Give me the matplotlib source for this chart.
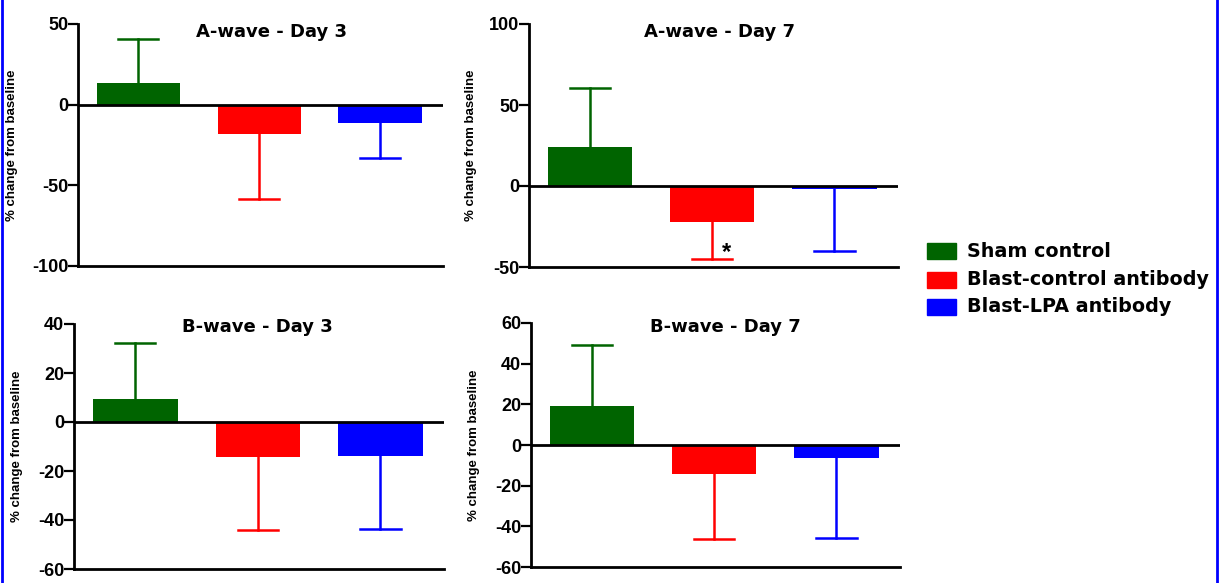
import matplotlib.pyplot as plt
from matplotlib.lines import Line2D
from matplotlib.patches import Rectangle

plt.rcParams['font.family'] = ['Liberation Sans', 'DejaVu Sans']
plt.rcParams['axes.unicode_minus'] = False

# Data (mean % change and SD, bar drawn away from zero)
groups = ['Sham control', 'Blast-control antibody', 'Blast-LPA antibody']
colors = ['#006400', '#ff0000', '#0000ff']

titles = ['A-wave - Day 3', 'A-wave - Day 7', 'B-wave - Day 3', 'B-wave - Day 7']
means = [
    [13.6, -18.2, -11.2],
    [24.0, -22.2, -2.0],
    [9.4, -14.3, -14.0],
    [19.2, -14.3, -6.4],
]
sds = [
    [27.3, 40.1, 22.1],
    [36.5, 22.8, 38.0],
    [22.8, 29.8, 29.6],
    [29.8, 32.1, 39.3],
]
ylims = [(-100, 50), (-50, 100), (-60, 40), (-60, 60)]
yticks = [[-100, -50, 0, 50], [-50, 0, 50, 100],
          [-60, -40, -20, 0, 20, 40], [-60, -40, -20, 0, 20, 40, 60]]

W, H = 1223, 583
fig = plt.figure(figsize=(W / 100, H / 100), dpi=100)

# axes boxes in pixels: left, right, top, bottom
boxes = [(78, 443, 24, 266), (529, 898, 24, 267),
         (74, 444, 324, 569), (531, 900, 323, 567)]
title_pos = [(0.529, 0.967), (0.515, 0.967), (0.496, 0.988), (0.528, 0.984)]
ylab_x = [18, 477, 23, 480]

for i, (l, r, t, b) in enumerate(boxes):
    ax = fig.add_axes([l / W, 1 - b / H, (r - l) / W, (b - t) / H])
    for j in range(len(groups)):
        m = means[i][j]
        s = sds[i][j]
        ax.bar(j, m, width=0.69, color=colors[j], zorder=2)
        # one-sided error bar, away from zero
        end = m + s if m >= 0 else m - s
        ax.plot([j, j], [m, end], color=colors[j], lw=1.8, zorder=1)
        ax.plot([j - 0.165, j + 0.165], [end, end], color=colors[j], lw=1.8, zorder=1)
    ax.axhline(0, color='black', lw=2, zorder=3)
    ax.set_xlim(-0.5, 2.52)
    ax.set_ylim(*ylims[i])
    ax.set_yticks(yticks[i])
    ax.set_xticks([])
    for side in ['top', 'right']:
        ax.spines[side].set_visible(False)
    for side in ['left', 'bottom']:
        ax.spines[side].set_linewidth(2)
    ax.tick_params(axis='y', length=7, width=1.6, labelsize=13, pad=0)
    for lab in ax.get_yticklabels():
        lab.set_fontweight('bold')
    ax.set_ylabel('% change from baseline', fontsize=9.5, fontweight='bold')
    ax.yaxis.set_label_coords((ylab_x[i] - l) / (r - l), 0.5)
    ax.text(title_pos[i][0], title_pos[i][1], titles[i], transform=ax.transAxes,
            fontsize=13, fontweight='bold', family='DejaVu Sans',
            ha='center', va='center')

    if i == 1:
        ax.text(1.12, -41, '*', fontsize=17, fontweight='bold',
                ha='center', va='center')

# legend drawn as figure patches
leg_y = [251, 280, 307]
for j, g in enumerate(groups):
    y = leg_y[j]
    fig.add_artist(Rectangle((927 / W, 1 - (y + 8) / H), 29 / W, 16 / H,
                             color=colors[j], transform=fig.transFigure))
    fig.text(967 / W, 1 - y / H, g, fontsize=13.8, fontweight='bold',
             family='DejaVu Sans', va='center')

# blue frame edges
fig.add_artist(Line2D([1.5 / W, 1.5 / W], [0, 1], color='#0000ff', lw=2))
fig.add_artist(Line2D([1216.5 / W, 1216.5 / W], [0, 1], color='#0000ff', lw=2))

fig.savefig('out.png', dpi=100)
